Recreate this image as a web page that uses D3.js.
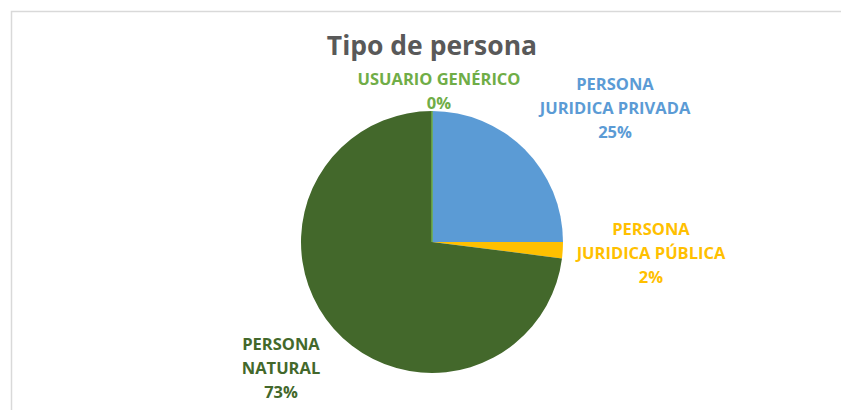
<!DOCTYPE html>
<html>
<head>
  <meta charset="utf-8">
  <script src="https://cdn.jsdelivr.net/npm/d3@7"></script>
  <style type="text/css">
    body {
      margin: 0;
      background: #fff;
      font-family: "Open Sans", Lato, sans-serif;
    }
    .title {
      font-size: 26.5px;
      font-weight: bold;
      fill: #595959;
    }
    .label {
      font-size: 16.5px;
      font-weight: bold;
    }
  </style>
</head>
<body>
  <script type="text/javascript">

  // Chart data
  const categories = ['PERSONA JURIDICA PRIVADA', 'PERSONA JURIDICA PÚBLICA', 'PERSONA NATURAL', 'USUARIO GENÉRICO'];
  const values = [25, 2, 73, 0];
  const percentLabels = ['25%', '2%', '73%', '0%'];
  // label lines as Excel wrapped them
  const labelLines = [
    ['PERSONA', 'JURIDICA PRIVADA'],
    ['PERSONA', 'JURIDICA PÚBLICA'],
    ['PERSONA', 'NATURAL'],
    ['USUARIO GENÉRICO']
  ];

  const colors = ['#5b9bd5', '#ffc000', '#43682b', '#70ad47'];
  // where Excel put each label block (center x, first line middle y)
  const labelPos = [[615, 84], [651, 229], [281, 344], [439, 79]];

  const width = 841, height = 410;
  const cx = 432, cy = 242, radius = 131;
  const lineStep = 24;

  const svg = d3.select('body').append('svg')
    .attr('width', width)
    .attr('height', height);

  // chart area border
  svg.append('rect')
    .attr('x', 11.5).attr('y', 11.5)
    .attr('width', width).attr('height', height)
    .attr('fill', 'none')
    .attr('stroke', '#d9d9d9')
    .attr('stroke-width', 1.5);

  svg.append('text')
    .attr('class', 'title')
    .attr('x', cx)
    .attr('y', 55)
    .attr('text-anchor', 'middle')
    .text('Tipo de persona');

  const color = d3.scaleOrdinal().domain(categories).range(colors);

  const pie = d3.pie().sort(null).value((d, i) => values[i]);
  const arc = d3.arc().innerRadius(0).outerRadius(radius);

  const g = svg.append('g')
    .attr('transform', `translate(${cx},${cy})`);

  g.selectAll('path')
    .data(pie(categories))
    .enter().append('path')
    .attr('d', arc)
    .attr('fill', d => color(d.data))
    // zero slice still shows as a thin line, like Excel
    .attr('stroke', d => d.value === 0 ? color(d.data) : 'none')
    .attr('stroke-width', 1.5);

  // data labels
  const lbl = svg.selectAll('text.label')
    .data(categories)
    .enter().append('text')
    .attr('class', 'label')
    .attr('text-anchor', 'middle')
    .attr('fill', d => color(d));

  lbl.each(function(d, i) {
    const t = d3.select(this);
    const lines = labelLines[i].concat([percentLabels[i]]);
    lines.forEach((s, j) => {
      t.append('tspan')
        .attr('x', labelPos[i][0])
        .attr('y', labelPos[i][1] + j * lineStep)
        .attr('dy', '0.36em')
        .text(s);
    });
  });

  </script>
</body>
</html>
